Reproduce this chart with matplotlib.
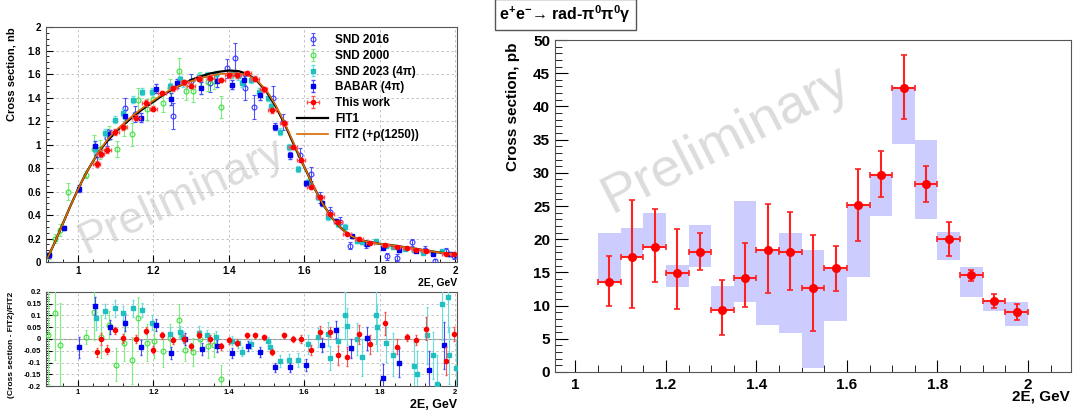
import matplotlib
matplotlib.use('Agg')
import matplotlib.pyplot as plt
from matplotlib.ticker import MultipleLocator, FormatStrFormatter
import numpy as np

plt.rcParams['font.family'] = ['Liberation Sans', 'DejaVu Sans']
plt.rcParams['font.weight'] = 'bold'
plt.rcParams['mathtext.fontset'] = 'custom'
plt.rcParams['mathtext.rm'] = 'Liberation Sans:bold'
plt.rcParams['mathtext.it'] = 'Liberation Sans:bold'
plt.rcParams['mathtext.bf'] = 'Liberation Sans:bold'
plt.rcParams['mathtext.default'] = 'rm'

# ---------------- left panel: pi+pi-pi0pi0 cross section, nb ----------------
fit_x = [0.920, 0.940, 0.960, 0.980, 1.000, 1.020, 1.040, 1.060, 1.080, 1.100,
         1.125, 1.150, 1.175, 1.200, 1.225, 1.250, 1.275, 1.300, 1.325, 1.350,
         1.375, 1.400, 1.425, 1.450, 1.475, 1.500, 1.525, 1.550, 1.575, 1.600,
         1.625, 1.650, 1.675, 1.700, 1.725, 1.750, 1.775, 1.800, 1.850, 1.900,
         1.950, 2.000]
fit1 = [0.04, 0.18, 0.33, 0.48, 0.62, 0.75, 0.86, 0.96, 1.04, 1.11,
        1.18, 1.25, 1.31, 1.365, 1.42, 1.47, 1.51, 1.55, 1.58, 1.605,
        1.62, 1.63, 1.625, 1.60, 1.54, 1.45, 1.32, 1.16, 0.98, 0.81,
        0.64, 0.49, 0.37, 0.28, 0.22, 0.185, 0.17, 0.155, 0.135, 0.11,
        0.085, 0.065]
fit2 = [0.04, 0.18, 0.33, 0.48, 0.62, 0.75, 0.86, 0.965, 1.05, 1.12,
        1.19, 1.26, 1.32, 1.375, 1.43, 1.475, 1.51, 1.54, 1.565, 1.585,
        1.60, 1.605, 1.605, 1.59, 1.545, 1.46, 1.33, 1.17, 0.99, 0.81,
        0.64, 0.49, 0.37, 0.28, 0.22, 0.185, 0.17, 0.155, 0.135, 0.11,
        0.085, 0.065]

snd16_x = [1.050, 1.076, 1.124, 1.151, 1.252, 1.300, 1.350, 1.394, 1.416, 1.442,
           1.467, 1.517, 1.544, 1.588, 1.618, 1.642, 1.669, 1.696, 1.720, 1.765,
           1.820, 1.846, 1.886, 1.921, 1.946, 1.975, 1.998]
snd16_y = [0.91, 1.06, 1.31, 1.26, 1.24, 1.54, 1.52, 1.65, 1.74, 1.48,
           1.32, 1.40, 1.19, 0.91, 0.75, 0.55, 0.43, 0.34, 0.14, 0.15,
           0.05, 0.037, 0.17, 0.105, 0.01, 0.094, 0.048]
snd16_e = [0.07, 0.07, 0.09, 0.07, 0.11, 0.06, 0.07, 0.08, 0.12, 0.10,
           0.10, 0.10, 0.07, 0.06, 0.06, 0.05, 0.04, 0.04, 0.03, 0.03,
           0.03, 0.03, 0.03, 0.03, 0.02, 0.03, 0.02]

snd00_x = [0.923, 0.938, 0.951, 0.973, 1.020, 1.043, 1.058, 1.082, 1.102, 1.123,
           1.142, 1.160, 1.182, 1.200, 1.225, 1.243, 1.268, 1.286, 1.305, 1.324,
           1.344, 1.360, 1.380]
snd00_y = [0.057, 0.20, 0.275, 0.60, 0.745, 0.96, 0.96, 1.10, 0.96, 1.15,
           1.086, 1.375, 1.30, 1.39, 1.353, 1.48, 1.625, 1.46, 1.455, 1.56,
           1.53, 1.54, 1.32]
snd00_e = [0.03, 0.04, 0.05, 0.07, 0.03, 0.12, 0.08, 0.06, 0.07, 0.08,
           0.10, 0.11, 0.09, 0.08, 0.08, 0.08, 0.11, 0.08, 0.09, 0.06,
           0.07, 0.07, 0.09]

snd23_x = [1.044, 1.071, 1.098, 1.120, 1.147, 1.169, 1.196, 1.244, 1.271, 1.278,
           1.320, 1.342, 1.367, 1.407, 1.425, 1.434, 1.459, 1.481, 1.503, 1.512,
           1.535, 1.560, 1.584, 1.611, 1.636, 1.664, 1.690, 1.709, 1.740, 1.752,
           1.790, 1.818, 1.835, 1.866, 1.890, 1.915, 1.942, 1.964, 1.980]
snd23_y = [0.965, 1.10, 1.21, 1.27, 1.38, 1.45, 1.45, 1.495, 1.555, 1.52,
           1.575, 1.59, 1.60, 1.60, 1.58, 1.52, 1.55, 1.45, 1.40, 1.33,
           1.11, 0.98, 0.79, 0.68, 0.55, 0.38, 0.32, 0.30, 0.18, 0.17,
           0.18, 0.14, 0.13, 0.113, 0.10, 0.077, 0.08, 0.094, 0.065]
snd23_e = [0.04, 0.03, 0.03, 0.03, 0.03, 0.03, 0.03, 0.03, 0.03, 0.03,
           0.03, 0.03, 0.03, 0.03, 0.03, 0.03, 0.03, 0.03, 0.03, 0.03,
           0.03, 0.025, 0.025, 0.025, 0.02, 0.02, 0.02, 0.02, 0.015, 0.015,
           0.015, 0.015, 0.015, 0.012, 0.012, 0.012, 0.012, 0.012, 0.012]

babar_x = [0.923, 0.964, 1.003, 1.044, 1.084, 1.124, 1.166, 1.207, 1.246, 1.262,
           1.327, 1.369, 1.409, 1.439, 1.483, 1.523, 1.563, 1.605, 1.647, 1.685,
           1.727, 1.766, 1.808, 1.852, 1.897, 1.942, 1.987]
babar_y = [0.057, 0.29, 0.624, 0.987, 1.086, 1.24, 1.23, 1.475, 1.39, 1.52,
           1.48, 1.54, 1.51, 1.55, 1.42, 1.15, 0.91, 0.67, 0.50, 0.35,
           0.22, 0.156, 0.12, 0.10, 0.094, 0.07, 0.065]
babar_e = [0.02, 0.02, 0.03, 0.04, 0.04, 0.05, 0.04, 0.04, 0.05, 0.04,
           0.05, 0.05, 0.04, 0.04, 0.04, 0.03, 0.03, 0.02, 0.02, 0.02,
           0.01, 0.01, 0.01, 0.01, 0.01, 0.01, 0.01]

work_x = [1.049, 1.060, 1.078, 1.098, 1.120, 1.153, 1.180, 1.200, 1.222, 1.253,
          1.282, 1.300, 1.320, 1.351, 1.380, 1.400, 1.422, 1.449, 1.470, 1.492,
          1.514, 1.545, 1.570, 1.592, 1.617, 1.642, 1.668, 1.690, 1.714, 1.745,
          1.775, 1.815, 1.845, 1.873, 1.897, 1.922, 1.976, 1.998]
work_y = [0.837, 0.92, 0.95, 1.106, 1.15, 1.23, 1.35, 1.305, 1.44, 1.48,
          1.53, 1.50, 1.56, 1.57, 1.55, 1.59, 1.59, 1.61, 1.56, 1.47,
          1.29, 1.18, 0.98, 0.87, 0.64, 0.55, 0.41, 0.34, 0.24, 0.20,
          0.165, 0.145, 0.132, 0.12, 0.105, 0.094, 0.07, 0.07]
work_e = [0.025, 0.03, 0.025, 0.025, 0.025, 0.02, 0.025, 0.02, 0.02, 0.02,
          0.02, 0.02, 0.02, 0.02, 0.02, 0.02, 0.02, 0.02, 0.02, 0.02,
          0.02, 0.02, 0.015, 0.015, 0.015, 0.015, 0.01, 0.01, 0.01, 0.01,
          0.008, 0.008, 0.006, 0.005, 0.005, 0.005, 0.005, 0.004]

# ---------------- residuals (data - FIT2)/FIT2 ----------------
r00_x = [0.920, 0.938, 0.951, 1.020, 1.043, 1.062, 1.082, 1.100, 1.123, 1.142,
         1.160, 1.182, 1.202, 1.224, 1.243, 1.267, 1.284, 1.305, 1.324, 1.344,
         1.360, 1.380]
r00_y = [0.015, 0.11, -0.025, 0.010, 0.115, 0.010, 0.060, -0.110, -0.015, -0.090,
         0.090, -0.015, -0.010, -0.050, 0.005, 0.080, -0.045, -0.055, 0.000, -0.030,
         -0.025, -0.170]
r00_e = [0.25, 0.20, 0.18, 0.03, 0.12, 0.09, 0.06, 0.07, 0.08, 0.10,
         0.09, 0.08, 0.07, 0.07, 0.06, 0.07, 0.05, 0.06, 0.04, 0.05,
         0.05, 0.06]

rbab_x = [1.003, 1.044, 1.084, 1.124, 1.166, 1.207, 1.246, 1.284, 1.328, 1.369,
          1.409, 1.450, 1.483, 1.523, 1.563, 1.605, 1.647, 1.685, 1.725, 1.766,
          1.808, 1.850, 1.930, 1.971]
rbab_y = [-0.036, 0.140, 0.050, 0.070, -0.036, 0.060, -0.060, 0.000, -0.044, -0.030,
          -0.060, -0.030, -0.056, -0.120, -0.120, -0.110, -0.025, 0.040, -0.040, 0.003,
          -0.166, -0.100, -0.132, -0.026]
rbab_e = [0.045, 0.04, 0.03, 0.035, 0.03, 0.025, 0.025, 0.025, 0.025, 0.025,
          0.02, 0.02, 0.02, 0.02, 0.02, 0.025, 0.03, 0.035, 0.04, 0.05,
          0.06, 0.06, 0.08, 0.10]

r23_x = [1.047, 1.071, 1.098, 1.120, 1.147, 1.169, 1.196, 1.244, 1.271, 1.278,
         1.320, 1.342, 1.367, 1.407, 1.425, 1.434, 1.459, 1.503, 1.509, 1.535,
         1.560, 1.584, 1.611, 1.636, 1.664, 1.667, 1.690, 1.709, 1.714, 1.740,
         1.752, 1.790, 1.792, 1.818, 1.835, 1.890, 1.900, 1.926, 1.942, 1.953,
         1.964, 1.980, 1.985, 2.003]
r23_y = [0.09, 0.12, 0.13, 0.11, 0.13, 0.125, 0.07, 0.02, 0.03, 0.01,
         0.025, 0.015, 0.01, -0.007, -0.018, -0.054, -0.022, -0.010, -0.032, -0.095,
         -0.090, -0.088, -0.022, 0.007, 0.022, -0.080, -0.010, 0.100, 0.054, 0.000,
         -0.078, 0.100, 0.050, -0.018, -0.066, -0.113, -0.150, 0.015, -0.070, -0.190,
         0.147, 0.180, -0.070, -0.122]
r23_e = [0.05, 0.03, 0.035, 0.03, 0.035, 0.03, 0.03, 0.03, 0.025, 0.025,
         0.03, 0.025, 0.025, 0.02, 0.02, 0.02, 0.02, 0.02, 0.02, 0.025,
         0.025, 0.03, 0.04, 0.04, 0.05, 0.05, 0.06, 0.10, 0.08, 0.07,
         0.08, 0.12, 0.10, 0.08, 0.09, 0.10, 0.10, 0.12, 0.10, 0.12,
         0.15, 0.15, 0.12, 0.12]

rwork_x = work_x
rwork_y = [-0.057, 0.000, -0.045, 0.038, 0.003, 0.000, 0.036, -0.045, 0.015, -0.005,
           0.000, -0.030, 0.018, 0.000, -0.030, -0.005, -0.015, 0.015, 0.015, 0.007,
           -0.056, 0.015, 0.000, 0.000, -0.047, 0.030, 0.030, -0.070, -0.075, 0.020,
           -0.022, 0.066, -0.032, 0.007, -0.004, 0.044, -0.093, 0.022]
rwork_e = [0.02, 0.025, 0.02, 0.015, 0.02, 0.015, 0.015, 0.015, 0.015, 0.015,
           0.015, 0.015, 0.015, 0.015, 0.015, 0.015, 0.015, 0.012, 0.012, 0.012,
           0.012, 0.012, 0.012, 0.015, 0.02, 0.025, 0.02, 0.04, 0.04, 0.04,
           0.04, 0.05, 0.03, 0.015, 0.02, 0.05, 0.06, 0.03]

# ---------------- right panel: e+e- -> rad-pi0pi0gamma, pb ----------------
bin_c = [1.075, 1.125, 1.175, 1.225, 1.275, 1.325, 1.375, 1.425, 1.475, 1.525,
         1.575, 1.625, 1.675, 1.725, 1.775, 1.825, 1.875, 1.925, 1.975]
sig = [13.6, 17.3, 18.8, 14.9, 18.0, 9.3, 14.1, 18.3, 18.0, 12.6,
       15.6, 25.15, 29.7, 42.7, 28.3, 20.0, 14.6, 10.7, 9.0]
stat_hi = [17.5, 25.9, 24.5, 21.5, 21.0, 13.8, 19.5, 25.3, 24.1, 20.7,
           19.0, 30.6, 33.3, 47.8, 31.0, 22.6, 15.4, 11.8, 10.3]
stat_lo = [10.0, 9.6, 13.6, 9.5, 15.4, 5.5, 9.8, 11.9, 12.4, 6.2,
           12.2, 19.8, 26.3, 38.1, 25.65, 17.4, 13.75, 9.6, 7.8]
sys_hi = [20.9, 21.75, 24.0, 16.1, 22.2, 13.0, 25.8, 18.3, 21.0, 18.4,
          15.6, 25.15, 29.7, 42.7, 35.0, 21.1, 15.8, 10.7, 10.5]
sys_lo = [13.7, 17.3, 18.8, 12.8, 15.8, 9.3, 10.6, 7.05, 5.8, 0.65,
          7.75, 14.35, 23.5, 34.3, 23.0, 16.8, 11.35, 9.2, 7.0]

fig = plt.figure(figsize=(10.75, 4.16), dpi=100)
ax1 = fig.add_axes([0.0428, 0.370, 0.3823, 0.565])
ax2 = fig.add_axes([0.0428, 0.0721, 0.3823, 0.226])
ax3 = fig.add_axes([0.5163, 0.1058, 0.48, 0.798])

frame_c = '#555555'


def root_axes(ax, lsize):
    ax.tick_params(which='both', direction='in', top=False, right=False,
                   labelsize=lsize, colors='black')
    ax.tick_params(which='major', length=5)
    ax.tick_params(which='minor', length=2.5)
    for s in ax.spines.values():
        s.set_color(frame_c)
        s.set_linewidth(0.8)
    for lab in ax.get_xticklabels() + ax.get_yticklabels():
        lab.set_fontweight('bold')


# left main
ax1.plot(fit_x, fit1, color='black', lw=1.6, zorder=5, label='FIT1')
ax1.plot(fit_x, fit2, color='#d86a00', lw=1.2, zorder=6, label='FIT2 (+\u03c1(1250))')
h16 = ax1.errorbar(snd16_x, snd16_y, yerr=snd16_e, fmt='o', ms=3.5, mfc='none',
                   mec='#3a3aff', mew=0.8, ecolor='#5050ff', elinewidth=0.8,
                   capsize=1.2, zorder=3, label='SND 2016')
h00 = ax1.errorbar(snd00_x, snd00_y, yerr=snd00_e, fmt='o', ms=3.5, mfc='none',
                   mec='#3ee03e', mew=0.8, ecolor='#7cf07c', elinewidth=0.8,
                   capsize=1.2, zorder=3, label='SND 2000')
h23 = ax1.errorbar(snd23_x, snd23_y, yerr=snd23_e, fmt='s', ms=3, color='#20c0c0',
                   ecolor='#6adede', elinewidth=0.8, capsize=1.2, zorder=4,
                   label='SND 2023 (4\u03c0)')
hbb = ax1.errorbar(babar_x, babar_y, yerr=babar_e, fmt='s', ms=3, color='#0000ee',
                   ecolor='#4848ff', elinewidth=0.8, capsize=1.2, zorder=4,
                   label='BABAR (4\u03c0)')
hwk = ax1.errorbar(work_x, work_y, yerr=work_e, xerr=0.01, fmt='o', ms=3,
                   color='#ff0000', ecolor='#ff5050', elinewidth=0.8, capsize=1.2,
                   zorder=7, label='This work')
ax1.set_xlim(0.915, 2.005)
ax1.set_ylim(0, 2)
ax1.xaxis.set_major_locator(MultipleLocator(0.2))
ax1.xaxis.set_minor_locator(MultipleLocator(0.04))
ax1.yaxis.set_major_locator(MultipleLocator(0.2))
ax1.yaxis.set_minor_locator(MultipleLocator(0.05))
ax1.xaxis.set_major_formatter(FormatStrFormatter('%g'))
ax1.yaxis.set_major_formatter(FormatStrFormatter('%g'))
ax1.grid(True, which='major', ls=(0, (3, 3)), color='#bbbbbb', lw=0.6)
root_axes(ax1, 7)
ax1.tick_params(axis='x', pad=3)
handles, labels = ax1.get_legend_handles_labels()
order = [h16, h00, h23, hbb, hwk] + handles[:2]
leg = ax1.legend(order, [h.get_label() for h in order], loc='upper right',
                 bbox_to_anchor=(0.925, 1.0), frameon=False, fontsize=8.5,
                 handlelength=2.6, labelspacing=0.32, borderaxespad=0.2,
                 handletextpad=0.6)
ax1.text(0.33, 0.28, 'Preliminary', transform=ax1.transAxes, fontsize=32,
         fontweight='normal', color='#dcdcdc', rotation=25, ha='center',
         va='center', zorder=0)

# residuals
ax2.axhline(0, color='#999999', lw=0.8, zorder=1)
ax2.errorbar(r00_x, r00_y, yerr=r00_e, fmt='o', ms=3.5, mfc='none', mec='#3ee03e',
             mew=0.8, ecolor='#7cf07c', elinewidth=0.8, capsize=1, zorder=3)
ax2.errorbar(r23_x, r23_y, yerr=r23_e, fmt='s', ms=3, color='#20c0c0',
             ecolor='#6adede', elinewidth=0.8, capsize=1, zorder=4)
ax2.errorbar(rbab_x, rbab_y, yerr=rbab_e, fmt='s', ms=3, color='#0000ee',
             ecolor='#4848ff', elinewidth=0.8, capsize=1, zorder=4)
ax2.errorbar(rwork_x, rwork_y, yerr=rwork_e, fmt='o', ms=3, color='#ff0000',
             ecolor='#ff5050', elinewidth=0.8, capsize=1, zorder=5)
ax2.set_xlim(0.915, 2.005)
ax2.set_ylim(-0.2, 0.2)
ax2.xaxis.set_major_locator(MultipleLocator(0.2))
ax2.xaxis.set_minor_locator(MultipleLocator(0.04))
ax2.yaxis.set_major_locator(MultipleLocator(0.05))
ax2.yaxis.set_minor_locator(MultipleLocator(0.01))
ax2.xaxis.set_major_formatter(FormatStrFormatter('%g'))
ax2.yaxis.set_major_formatter(FormatStrFormatter('%g'))
ax2.grid(True, which='major', ls=(0, (3, 3)), color='#bbbbbb', lw=0.6)
root_axes(ax2, 5.5)
ax2.tick_params(which='major', length=4)
ax2.tick_params(which='minor', length=2)
ax2.tick_params(axis='x', pad=2)

# right panel
ax3.bar(bin_c, np.array(sys_hi) - np.array(sys_lo), bottom=sys_lo, width=0.05,
        color='#ccccff', linewidth=0, zorder=2)
sig_a = np.array(sig)
ax3.errorbar(bin_c, sig_a, yerr=[sig_a - np.array(stat_lo), np.array(stat_hi) - sig_a],
             xerr=0.025, fmt='o', ms=5.5, color='#ff0000', ecolor='#ff2020',
             elinewidth=1.5, capsize=2, capthick=1.2, zorder=4)
ax3.set_xlim(0.955, 2.095)
ax3.set_ylim(0, 50)
ax3.xaxis.set_major_locator(MultipleLocator(0.2))
ax3.xaxis.set_minor_locator(MultipleLocator(0.05))
ax3.yaxis.set_major_locator(MultipleLocator(5))
ax3.yaxis.set_minor_locator(MultipleLocator(1))
ax3.xaxis.set_major_formatter(FormatStrFormatter('%g'))
ax3.yaxis.set_major_formatter(FormatStrFormatter('%g'))
root_axes(ax3, 11)
ax3.tick_params(which='major', length=9)
ax3.tick_params(which='minor', length=5)
ax3.tick_params(axis='x', pad=4)
ax3.text(0.33, 0.70, 'Preliminary', transform=ax3.transAxes, fontsize=39,
         fontweight='normal', color='#dcdcdc', rotation=27, ha='center',
         va='center', zorder=0)

# labels
fig.text(0.011, 0.935, 'Cross section, nb', rotation=90, ha='center', va='top',
         fontsize=8, fontweight='bold')
fig.text(0.011, 0.298, '(Cross section - FIT2)/FIT2', rotation=90, ha='center',
         va='top', fontsize=6, fontweight='bold')
fig.text(0.425, 0.322, '2E, GeV', ha='right', va='center', fontsize=7.5,
         fontweight='bold')
fig.text(0.425, 0.026, '2E, GeV', ha='right', va='center', fontsize=9,
         fontweight='bold')
fig.text(0.477, 0.899, 'Cross section, pb', rotation=90, ha='center', va='top',
         fontsize=11, fontweight='bold')
fig.text(0.995, 0.046, '2E, GeV', ha='right', va='center', fontsize=11,
         fontweight='bold')
fig.text(0.4645, 0.966,
         r'e$^{+}$e$^{-}$' + '\u2192 rad-' + r'$\pi^{0}\pi^{0}\gamma$',
         ha='left', va='center', fontsize=11.5, fontweight='bold',
         bbox=dict(boxstyle='square,pad=0.3', facecolor='white',
                   edgecolor='#555555', linewidth=1))

fig.savefig('out.png', dpi=100)
